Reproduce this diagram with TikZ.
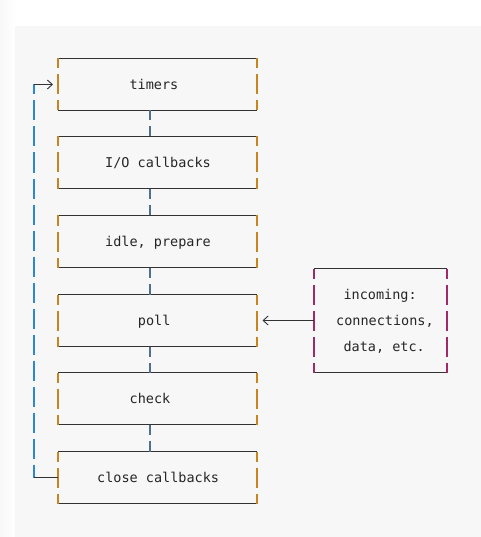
\documentclass[tikz,border=0pt]{standalone}
\usepackage{fontspec}
\setmonofont{DejaVu Sans Mono}
\usetikzlibrary{arrows.meta}
\definecolor{panel}{HTML}{F7F7F7}
\definecolor{rimcol}{HTML}{333333}
\definecolor{sidecol}{HTML}{C8841E}
\definecolor{loopcol}{HTML}{2F86D4}
\definecolor{linkcol}{HTML}{4F6F8F}
\definecolor{incol}{HTML}{9E2A66}
\definecolor{txtcol}{HTML}{262626}
\tikzset{
  phasebox/.style={
    minimum width=199bp,
    minimum height=52bp,
    inner sep=0pt,
    outer sep=0pt
  },
  inbox/.style={
    minimum width=133bp,
    minimum height=104bp,
    inner sep=0pt,
    outer sep=0pt
  },
  rim/.style={
    draw=rimcol,
    line width=1.2bp
  },
  side/.style={
    line width=1.5bp,
    dash pattern=on 20bp off 6bp,
    dash phase=10bp
  },
  phasetext/.style={
    anchor=base west,
    inner sep=0pt,
    text=txtcol,
    font=\ttfamily\fontsize{13.5bp}{13.5bp}\selectfont
  },
  barb/.style={
    -{Straight Barb[length=5bp,width=9bp,line width=0.9bp]}
  }
}
\begin{document}
\begin{tikzpicture}[x=1bp,y=-1bp]
  \useasboundingbox (0,0) rectangle (481,537);
  \shade[left color=black!3, right color=white] (0,0) rectangle (15,537);
  \fill[panel] (15,26) rectangle (481,537);
  % the six phases
  \foreach \n/\y/\tx/\t in {timers/84.5/129.3/timers, io/162.5/105/{I/O callbacks},
      idle/241.5/105/{idle, prepare}, poll/320.5/137.7/poll, check/398.5/129.5/check,
      close/477.5/97/{close callbacks}}{
    \node[phasebox] (\n) at (157.5,\y) {};
    \draw[rim] (\n.north west) -- (\n.north east);
    \draw[rim] (\n.south west) -- (\n.south east);
    \draw[side, draw=sidecol] (\n.north west) -- (\n.south west);
    \draw[side, draw=sidecol] (\n.north east) -- (\n.south east);
    \node[phasetext] (\n-text) at (\tx,\y+5) {\t};
  }
  \foreach \a/\b in {timers/io, io/idle, idle/poll, poll/check, check/close}
    \draw[side, draw=linkcol] ([xshift=-7.5bp]\a.south) -- ([xshift=-7.5bp]\b.north);
  % loop back
  \coordinate (looptop) at (34,84.5);
  \coordinate (loopbot) at (34,477.5);
  \draw[side, draw=loopcol] (looptop) -- (loopbot);
  \draw[rim, barb] (looptop) -- ([xshift=-5bp]timers.west);
  \draw[rim] (loopbot) -- (close.west);
  % incoming
  \node[inbox] (incoming) at (380.5,320.5) {};
  \draw[rim] (incoming.north west) -- (incoming.north east);
  \draw[rim] (incoming.south west) -- (incoming.south east);
  \draw[side, draw=incol] (incoming.north west) -- (incoming.south west);
  \draw[side, draw=incol] (incoming.north east) -- (incoming.south east);
  \node[phasetext] (in1) at (343.3,299) {incoming:};
  \node[phasetext] (in2) at (336,325) {connections,};
  \node[phasetext] (in3) at (343.3,351) {data, etc.};
  \draw[rim, barb] (incoming.west) -- ([xshift=5.5bp]poll.east);
\end{tikzpicture}
\end{document}
